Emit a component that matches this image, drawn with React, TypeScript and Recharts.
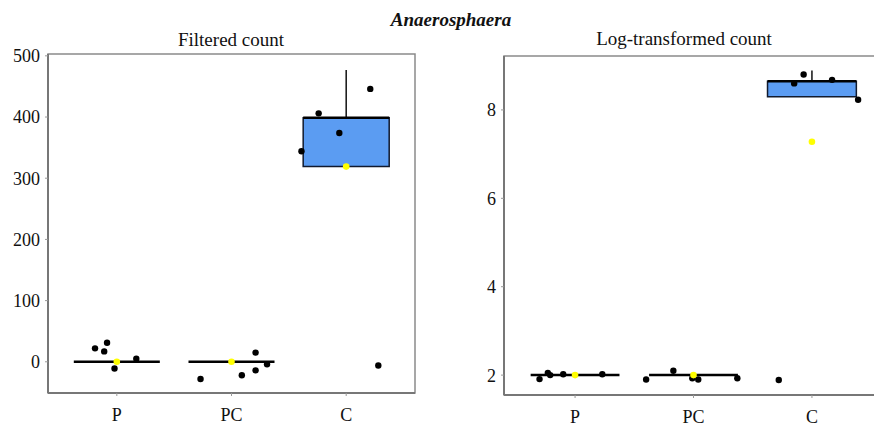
import {
  ComposedChart,
  Scatter,
  XAxis,
  YAxis,
  ReferenceArea,
  ReferenceLine,
} from 'recharts';

const groups = ['P', 'PC', 'C'];
const groupPos = [1, 2, 3];

// Filtered count: jitter offset (x) and value per sample
const filteredP = [[-0.19, 22], [-0.11, 17], [-0.085, 31], [-0.02, -11], [0.17, 5]];
const filteredPC = [[-0.27, -28], [0.09, -22], [0.21, 15], [0.21, -14], [0.31, -4]];
const filteredC = [[-0.39, 344], [-0.24, 406], [-0.06, 374], [0.21, 446], [0.28, -6]];
const filteredMean = [0, 0, 319];
// q1, median, q3, upper whisker
const filteredBox = [
  [0, 0, 0, 0],
  [0, 0, 0, 0],
  [319, 399, 399, 477],
];
const filteredTicks = [0, 100, 200, 300, 400, 500];

// Log-transformed count
const logP = [[-0.3, 1.91], [-0.23, 2.05], [-0.21, 2.0], [-0.1, 2.02], [0.23, 2.02]];
const logPC = [[-0.4, 1.9], [-0.17, 2.1], [-0.01, 1.93], [0.04, 1.9], [0.37, 1.93]];
const logC = [[-0.28, 1.89], [-0.15, 8.6], [-0.07, 8.8], [0.17, 8.68], [0.39, 8.23]];
const logMean = [2.0, 2.0, 7.28];
const logBox = [
  [2.0, 2.0, 2.0, 2.0],
  [2.0, 2.0, 2.0, 2.0],
  [8.3, 8.65, 8.65, 8.89],
];
const logTicks = [2, 4, 6, 8];

const FONT = '"Liberation Serif", "Times New Roman", serif';
const BOX_FILL = '#5b9cf2';
const FRAME = '#8a8a8a';

const toPoints = (sets: number[][][]) =>
  sets.flatMap((set, i) => set.map(([dx, y]) => ({ x: groupPos[i] + dx, y })));

const toMeans = (means: number[]) => means.map((y, i) => ({ x: groupPos[i], y }));

const Dot = (props: any) => <circle cx={props.cx} cy={props.cy} r={3.2} fill="#000" />;
const MeanDot = (props: any) => <circle cx={props.cx} cy={props.cy} r={3.3} fill="#ffff00" />;

interface PanelProps {
  width: number;
  height: number;
  margin: { top: number; right: number; bottom: number; left: number };
  domain: [number, number];
  ticks: number[];
  points: { x: number; y: number }[];
  means: { x: number; y: number }[];
  boxes: number[][];
}

function BoxPanel({ width, height, margin, domain, ticks, points, means, boxes }: PanelProps) {
  const tickStyle = { fill: '#111', fontSize: 18, fontFamily: FONT };
  return (
    <ComposedChart width={width} height={height} margin={margin}>
      <XAxis
        type="number"
        dataKey="x"
        domain={[0.4, 3.6]}
        ticks={groupPos}
        tickFormatter={(v) => groups[groupPos.indexOf(v)] ?? ''}
        tick={tickStyle}
        axisLine={{ stroke: '#777', strokeWidth: 2 }}
        tickLine={{ stroke: '#999' }}
        tickSize={3}
        tickMargin={12}
        height={30}
        allowDataOverflow
      />
      <YAxis
        type="number"
        dataKey="y"
        domain={domain}
        ticks={ticks}
        tick={tickStyle}
        axisLine={{ stroke: '#777', strokeWidth: 2 }}
        tickLine={{ stroke: '#999' }}
        tickSize={3}
        tickMargin={5}
        width={48}
        allowDataOverflow
      />
      <ReferenceArea
        x1={0.4}
        x2={3.6}
        y1={domain[0]}
        y2={domain[1]}
        fill="none"
        stroke={FRAME}
        strokeWidth={1.5}
      />
      {boxes.map(([q1, med, q3, hi], i) => (
        <ReferenceLine
          key={`w${i}`}
          segment={[
            { x: groupPos[i], y: q3 },
            { x: groupPos[i], y: hi },
          ]}
          stroke="#111"
          strokeWidth={1.5}
        />
      ))}
      {boxes.map(([q1, med, q3], i) =>
        q3 > q1 ? (
          <ReferenceArea
            key={`b${i}`}
            x1={groupPos[i] - 0.375}
            x2={groupPos[i] + 0.375}
            y1={q1}
            y2={q3}
            fill={BOX_FILL}
            fillOpacity={1}
            stroke="#111a2e"
            strokeWidth={1.5}
          />
        ) : null
      )}
      {boxes.map(([q1, med], i) => (
        <ReferenceLine
          key={`m${i}`}
          segment={[
            { x: groupPos[i] - 0.375, y: med },
            { x: groupPos[i] + 0.375, y: med },
          ]}
          stroke="#000"
          strokeWidth={2.5}
        />
      ))}
      <Scatter data={points} shape={Dot} isAnimationActive={false} />
      <Scatter data={means} shape={MeanDot} isAnimationActive={false} />
    </ComposedChart>
  );
}

const titleStyle: React.CSSProperties = {
  position: 'absolute',
  fontFamily: FONT,
  fontSize: 19,
  lineHeight: '19px',
  color: '#111',
  whiteSpace: 'nowrap',
  transform: 'translateX(-50%)',
};

export default function App() {
  return (
    <div
      style={{
        position: 'absolute',
        left: 0,
        top: 0,
        width: 874,
        height: 428,
        overflow: 'hidden',
        background: '#fff',
      }}
    >
      <div
        style={{
          ...titleStyle,
          left: 451,
          top: 10,
          fontWeight: 'bold',
          fontStyle: 'italic',
        }}
      >
        Anaerosphaera
      </div>
      <div style={{ ...titleStyle, left: 231, top: 30 }}>Filtered count</div>
      <div style={{ ...titleStyle, left: 684, top: 29 }}>Log-transformed count</div>

      <div style={{ position: 'absolute', left: 0, top: 0 }}>
        <BoxPanel
          width={420}
          height={428}
          margin={{ top: 54, right: 5, bottom: 5, left: 0 }}
          domain={[-51, 503]}
          ticks={filteredTicks}
          points={toPoints([filteredP, filteredPC, filteredC])}
          means={toMeans(filteredMean)}
          boxes={filteredBox}
        />
      </div>
      <div style={{ position: 'absolute', left: 456, top: 0 }}>
        <BoxPanel
          width={428}
          height={428}
          margin={{ top: 56, right: 1, bottom: 3, left: 0 }}
          domain={[1.55, 9.22]}
          ticks={logTicks}
          points={toPoints([logP, logPC, logC])}
          means={toMeans(logMean)}
          boxes={logBox}
        />
      </div>
    </div>
  );
}
